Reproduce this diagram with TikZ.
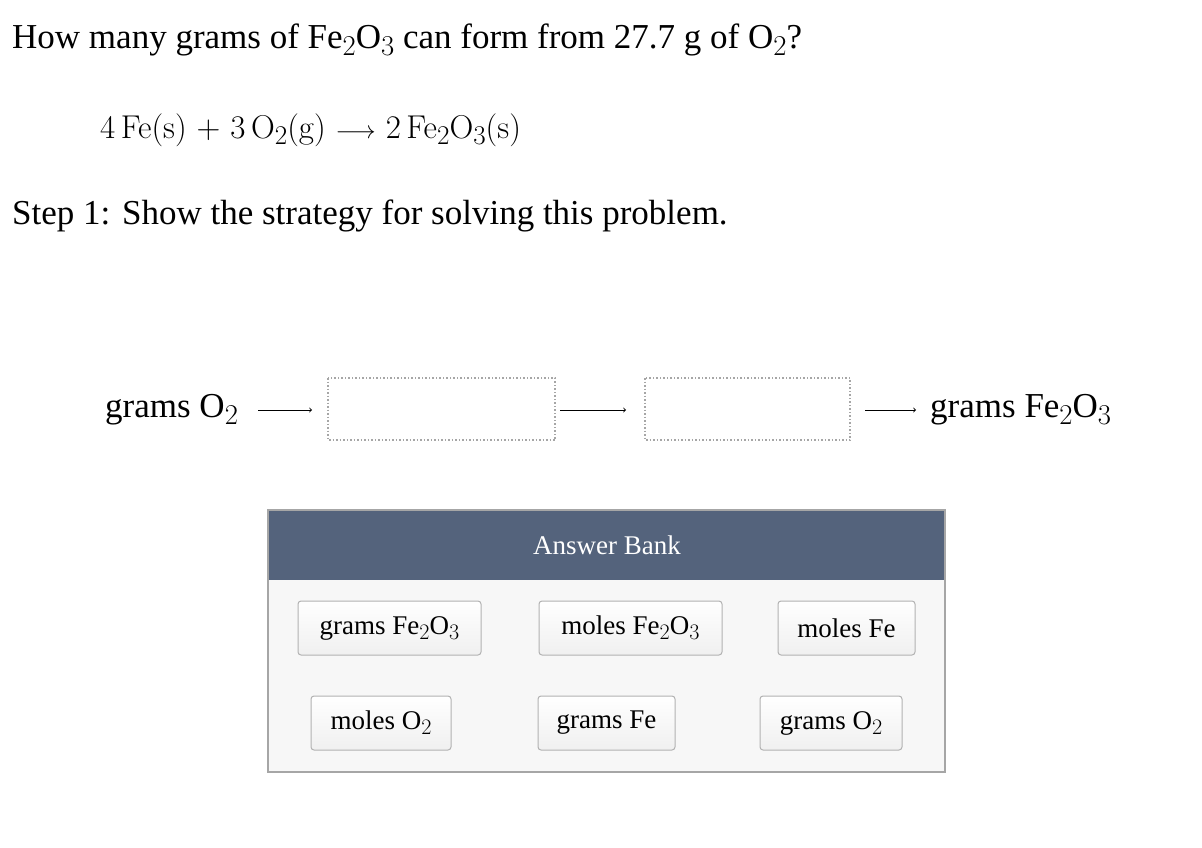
\documentclass[tikz,border=0pt]{standalone}
\usepackage{fontspec}
\setmainfont{Liberation Serif}
\newfontfamily\lmr{Latin Modern Roman}
\newcommand\sbs[1]{\raisebox{-0.42ex}{\scalebox{0.82}{\lmr #1}}}
\begin{document}
\begin{tikzpicture}[x=1pt,y=-1pt,
  slot/.style={draw=gray!70, dotted, line width=1.5pt},
  btn/.style={draw=gray!60, rounded corners=3pt, line width=1pt, top color=white, bottom color=gray!12},
  bt/.style={font=\fontsize{27}{30}\selectfont},
  big/.style={font=\fontsize{35}{38}\selectfont},
  arr/.style={->, line width=0.9pt}]
\useasboundingbox (0,0) rectangle (1202,848);
\node[anchor=west, big, inner sep=0] (q) at (12,40) {How many grams of Fe\sbs2O\sbs3 can form from 27.7 g of O\sbs2?};
\node[anchor=west, font=\fontsize{33}{36}\selectfont\lmr, inner sep=0] (eq) at (100,130) {4\,Fe(s) + 3\,O\sbs2(g) $\longrightarrow$ 2\,Fe\sbs2O\sbs3(s)};
\node[anchor=west, big, inner sep=0] (s1) at (12,216) {Step 1: Show the strategy for solving this problem.};
\node[anchor=west, big, inner sep=0] (g1) at (105,410) {grams O\sbs2};
\draw[slot] (328,378) rectangle (555,440); \coordinate (b1l) at (312,410); \coordinate (b1r) at (560,410);
\draw[slot] (645,378) rectangle (850,440); \coordinate (b2l) at (626,410); \coordinate (b2r) at (865,410);
\node[anchor=west, big, inner sep=0] (g2) at (930,410) {grams Fe\sbs2O\sbs3};
\coordinate (g1e) at (258,410); \coordinate (g2s) at (916,410);
\draw[arr] (g1e) -- (b1l);
\draw[arr] (b1r) -- (b2l);
\draw[arr] (b2r) -- (g2s);
\fill[gray!6] (268,510) rectangle (945,772);
\fill[fill={rgb,255:red,84;green,99;blue,124}] (268,510) rectangle (945,580);
\draw[gray!70, line width=1.2pt] (268,510) rectangle (945,772);
\node[white, bt] (ab) at (607,545) {Answer Bank};
\draw[btn] (298,601) rectangle (481,655); \node[bt] (a1) at (389.5,628) {grams Fe\sbs2O\sbs3};
\draw[btn] (539,601) rectangle (722,655); \node[bt] (a2) at (630.5,628) {moles Fe\sbs2O\sbs3};
\draw[btn] (778,601) rectangle (915,655); \node[bt] (a3) at (846.5,628) {moles Fe};
\draw[btn] (311,696) rectangle (451,750); \node[bt] (a4) at (381,723) {moles O\sbs2};
\draw[btn] (538,696) rectangle (675,750); \node[bt] (a5) at (606.5,723) {grams Fe};
\draw[btn] (760,696) rectangle (902,750); \node[bt] (a6) at (831,723) {grams O\sbs2};
\end{tikzpicture}
\end{document}
